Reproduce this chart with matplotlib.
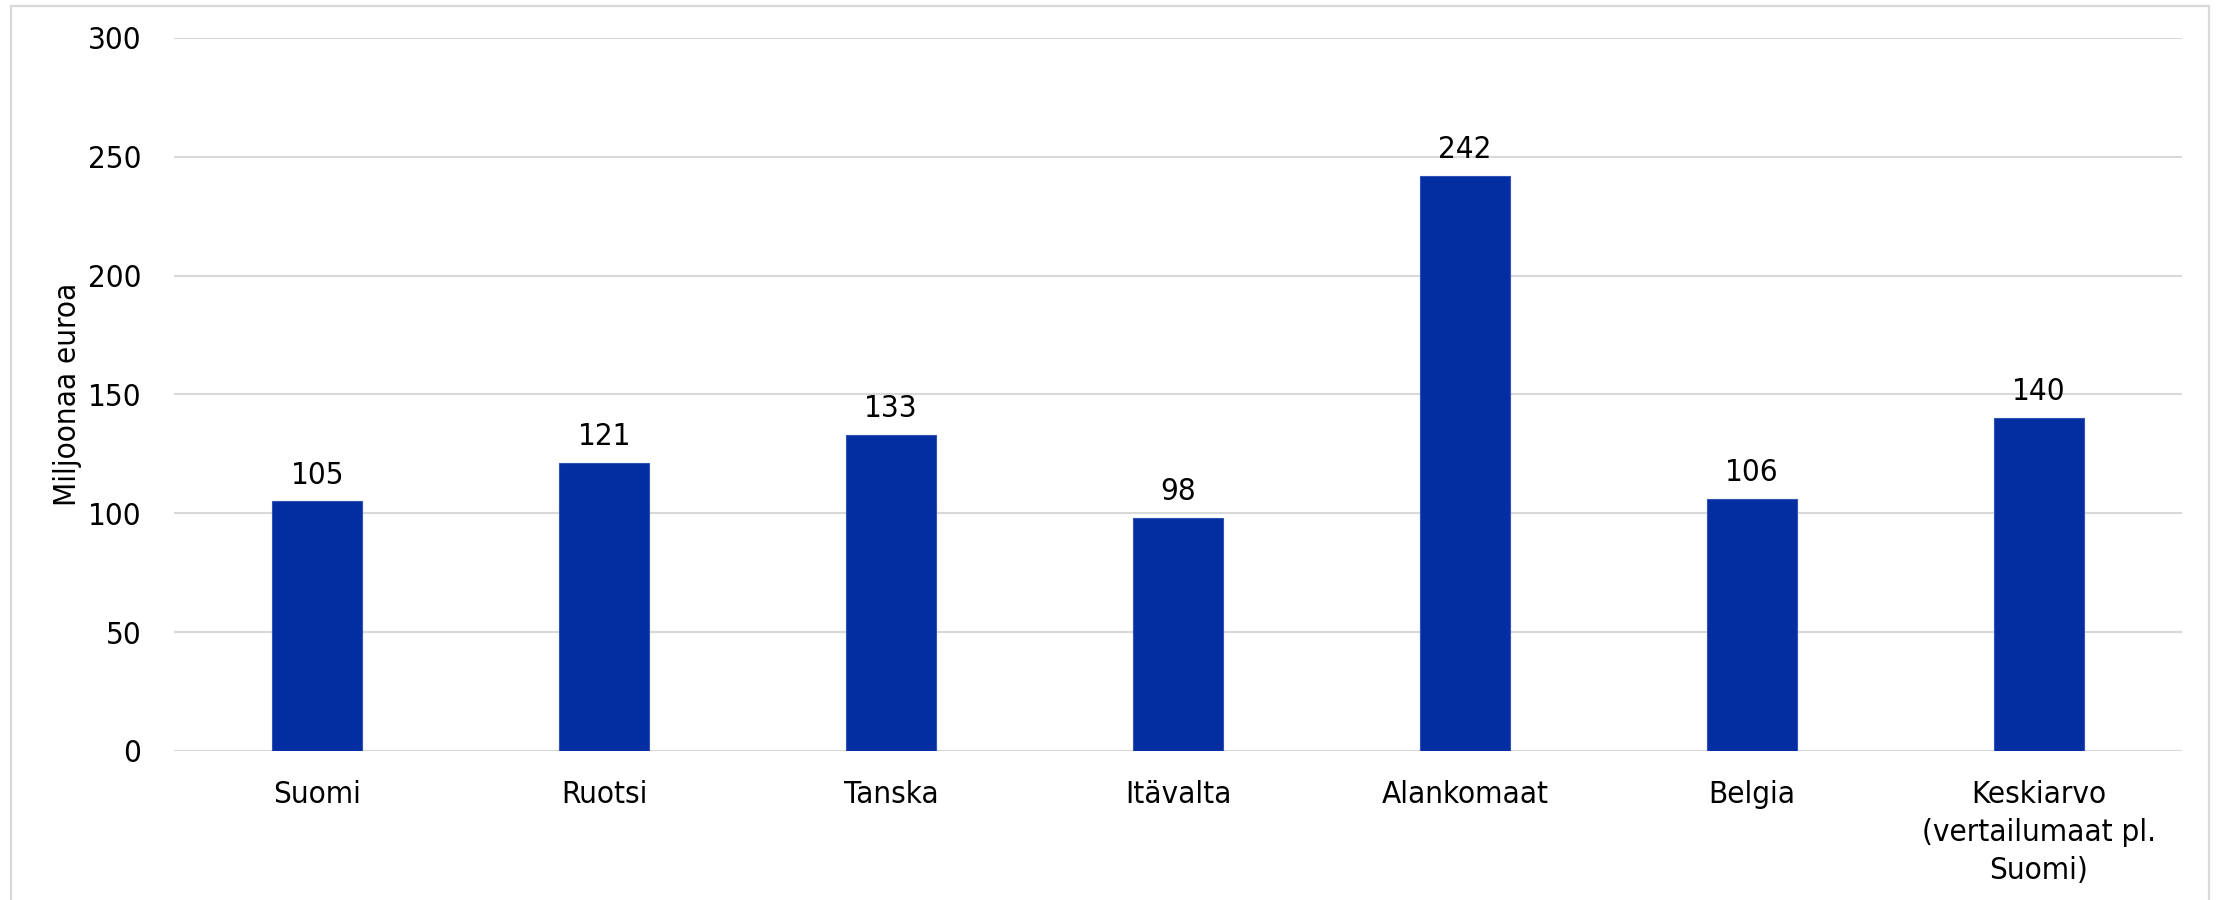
import matplotlib
matplotlib.use("Agg")
import matplotlib.pyplot as plt
from matplotlib.patches import Rectangle
from matplotlib import font_manager as fm
from matplotlib.font_manager import FontProperties

categories = ["Suomi", "Ruotsi", "Tanska", "Itävalta", "Alankomaat", "Belgia",
              "Keskiarvo\n(vertailumaat pl.\nSuomi)"]
values = [105, 121, 133, 98, 242, 106, 140]
yticks = [0, 50, 100, 150, 200, 250, 300]
ylabel = "Miljoonaa euroa"

plt.rcParams['font.family'] = ['DejaVu Sans']
has_cond = any(f.name == 'DejaVu Sans' and f.stretch == 'condensed' for f in fm.fontManager.ttflist)
stretch = 'condensed' if has_cond else 'normal'
plt.rcParams['font.stretch'] = stretch
FS = 22.5

fig = plt.figure(figsize=(22.16, 9), dpi=100)
ax = fig.add_axes([174/2216, 1-751/900, (2182-174)/2216, (751-38)/900])

# line spacing so that baselines are ~37.7 px apart
renderer = fig.canvas.get_renderer()
fp = FontProperties(family='DejaVu Sans', size=FS, stretch=stretch)
_, lp_h, lp_d = renderer.get_text_width_height_descent("lp", fp, ismath=False)
ls = (37.7 - lp_d) / (lp_h - lp_d)

x = list(range(len(categories)))
bars = ax.bar(x, values, width=0.314, color="#032EA1", edgecolor="#2f52b5", linewidth=0.8, zorder=3)
ax.bar_label(bars, labels=[str(v) for v in values], padding=8.6, fontsize=FS, color="black")

ax.set_xlim(-0.5, len(categories) - 0.5)
ax.set_ylim(0, 300)
ax.set_yticks(yticks)
ax.set_yticklabels([str(t) for t in yticks])
ax.set_xticks(x)
ax.set_xticklabels(categories, fontsize=FS, linespacing=ls)
ax.tick_params(axis='y', length=0, pad=23.5, labelsize=FS)
ax.tick_params(axis='x', length=0, pad=21, labelsize=FS)

ax.grid(axis='y', color="#d9d9d9", linewidth=1.5, zorder=0)
ax.set_axisbelow(True)
for s in ax.spines.values():
    s.set_visible(False)

ax.set_ylabel(ylabel, fontsize=FS)
ax.yaxis.set_label_coords(-0.0456, 0.5)

border = Rectangle((11/2216, -0.02), (2209-11)/2216, 1 - 6/900 + 0.02,
                   transform=fig.transFigure, fill=False, edgecolor="#d9d9d9",
                   linewidth=1.6, clip_on=False)
fig.add_artist(border)

fig.savefig("out.png", dpi=100, facecolor="white")
